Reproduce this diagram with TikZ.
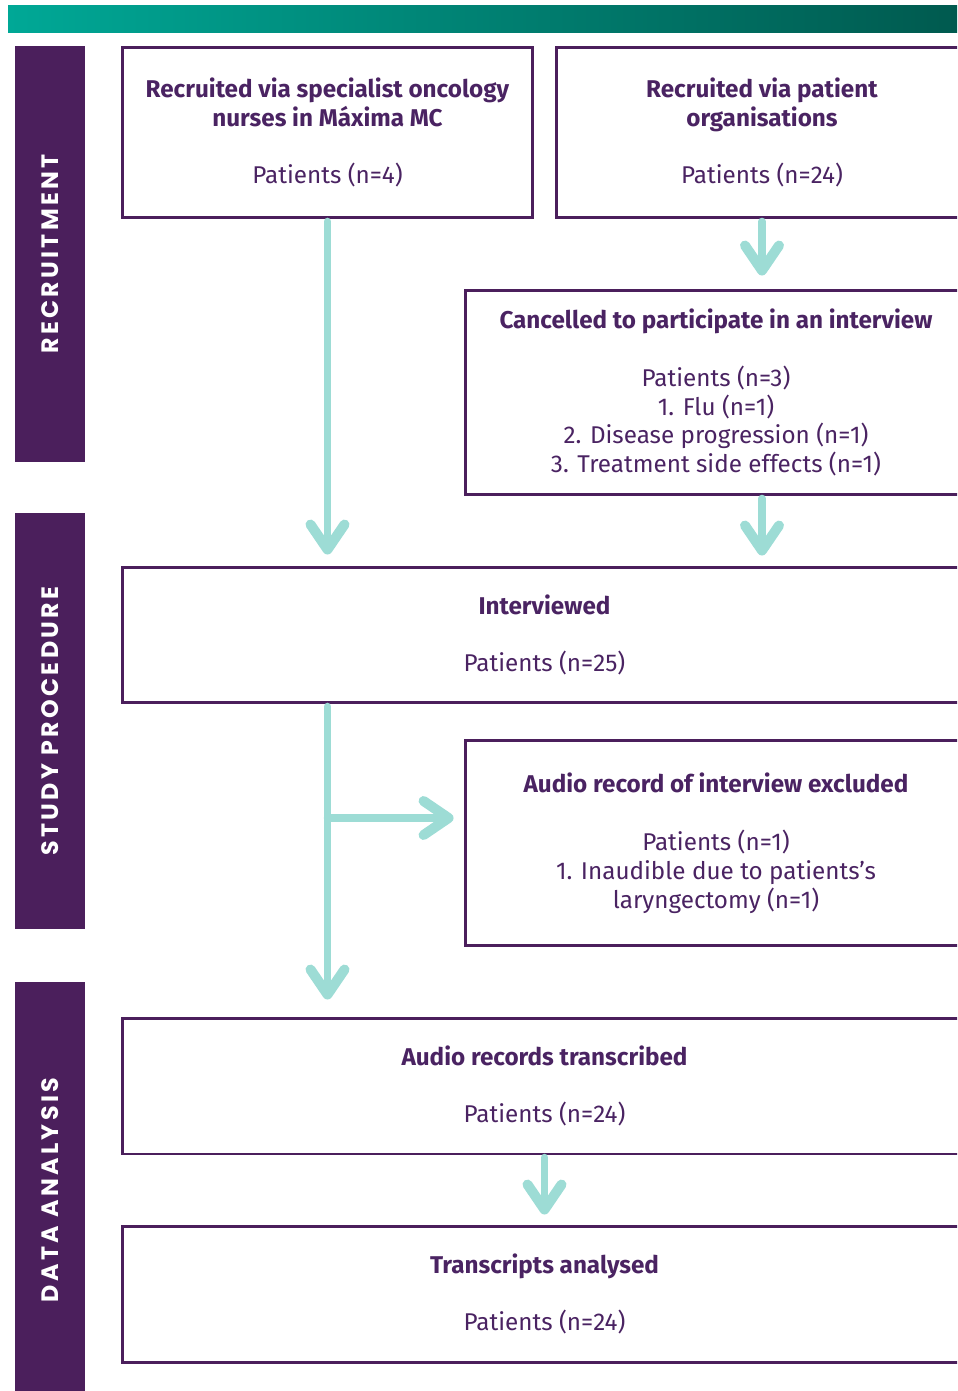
\documentclass[tikz,border=0pt]{standalone}
\usepackage{fontspec}
\setmainfont{Fira Sans}
\newfontfamily\phasefont{Poppins}[LetterSpace=14]
\usetikzlibrary{arrows.meta}

\definecolor{plum}{HTML}{4B1F5C}
\definecolor{plumtext}{HTML}{4A2362}
\definecolor{mint}{HTML}{9DDCD5}
\definecolor{tealA}{HTML}{00A896}
\definecolor{tealB}{HTML}{005A4F}

\tikzset{
	box/.style={draw=plum, line width=0.06cm, text=plumtext, align=center,
		font=\fontsize{13.8}{16.44}\selectfont, inner sep=0pt},
	phase/.style={fill=plum, text=white, minimum width=8.32cm, minimum height=1.4cm,
		rotate=90, inner sep=0pt, font=\phasefont\bfseries\fontsize{13.5}{15}\selectfont},
	flow/.style={draw=mint, line width=0.15cm, line cap=round,
		-{Straight Barb[length=0.5cm, width=0.68cm, line width=0.2cm, round]}}
}

\begin{document}
\begin{tikzpicture}
	\pgfsetxvec{\pgfpoint{0.02cm}{0.0cm}}
	\pgfsetyvec{\pgfpoint{0.0cm}{-0.02cm}}

	\useasboundingbox (0,0) rectangle (957,1391);
	\clip (0,0) rectangle (957,1391);

	% top bar
	\shade[left color=tealA, right color=tealB] (8,6) rectangle (957,33);

	% phases
	\node[phase] at (50,254) (recruitment) {RECRUITMENT};
	\node[phase] at (50,721) (procedure) {STUDY PROCEDURE};
	\node[phase] at (50,1190) (analysis) {DATA ANALYSIS};

	% boxes
	\node[box, minimum width=8.22cm, minimum height=3.42cm] at (327.5,132.5) (nurses)
	{\textbf{Recruited via specialist oncology}\\ \textbf{nurses in Máxima MC}\\[16.44pt] Patients (n=4)};
	\node[box, minimum width=8.24cm, minimum height=3.42cm] at (762,132.5) (organisations)
	{\textbf{Recruited via patient}\\ \textbf{organisations}\\[16.44pt] Patients (n=24)};
	\node[box, minimum width=10.04cm, minimum height=4.1cm] at (716,392.5) (cancelled)
	{\textbf{Cancelled to participate in an interview}\\[16.44pt] Patients (n=3)\\ 1. Flu (n=1)\\
		2. Disease progression (n=1)\\ 3. Treatment side effects (n=1)};
	\node[box, minimum width=16.9cm, minimum height=2.72cm] at (544.5,635) (interviewed)
	{\textbf{Interviewed}\\[16.44pt] Patients (n=25)};
	\node[box, minimum width=10.04cm, minimum height=4.12cm] at (716,843) (excluded)
	{\textbf{Audio record of interview excluded}\\[16.44pt] Patients (n=1)\\
		1. Inaudible due to patients’s\\ laryngectomy (n=1)};
	\node[box, minimum width=16.9cm, minimum height=2.72cm] at (544.5,1086) (transcribed)
	{\textbf{Audio records transcribed}\\[16.44pt] Patients (n=24)};
	\node[box, minimum width=16.9cm, minimum height=2.72cm] at (544.5,1294) (analysed)
	{\textbf{Transcripts analysed}\\[16.44pt] Patients (n=24)};

	\coordinate (branch) at (327.5,818);

	% arrows
	\draw[flow, shorten <=0.04cm, shorten >=0.22cm] (nurses.south) -- (nurses.south |- interviewed.north);
	\draw[flow, shorten <=0.04cm, shorten >=0.26cm] (organisations.south) -- (organisations.south |- cancelled.north);
	\draw[flow, shorten <=0.04cm, shorten >=0.2cm] (cancelled.south -| organisations.south) -- (interviewed.north -| organisations.south);
	\draw[flow, shorten <=0.04cm, shorten >=0.34cm] (interviewed.south -| nurses.south) -- (transcribed.north -| nurses.south);
	\draw[flow, shorten >=0.2cm] (branch) -- (branch -| excluded.west);
	\draw[flow, shorten <=0.04cm, shorten >=0.2cm] (transcribed.south) -- (analysed.north);

\end{tikzpicture}
\end{document}
